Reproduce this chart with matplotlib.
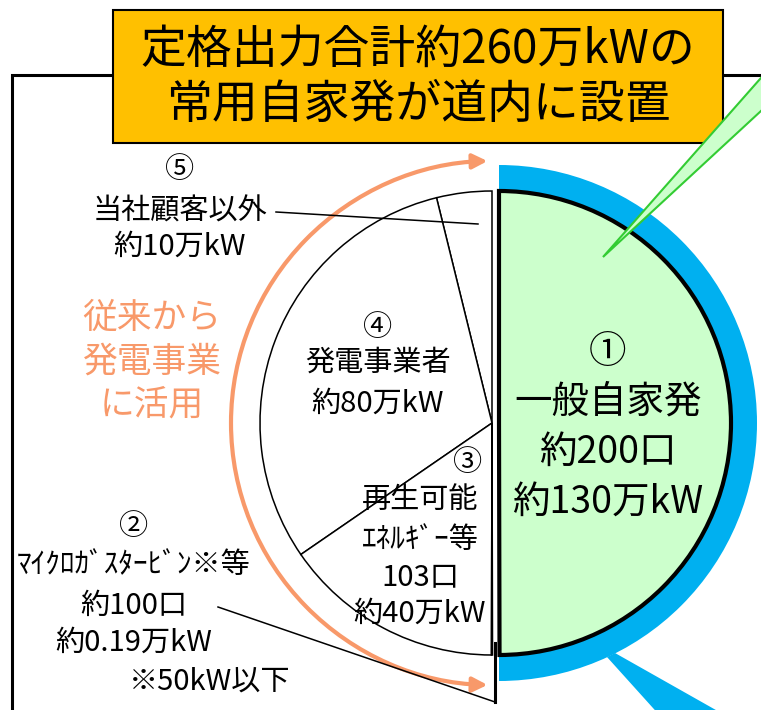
import matplotlib
matplotlib.use("Agg")
import matplotlib.pyplot as plt
from matplotlib.patches import Rectangle, Wedge, Polygon, FancyArrowPatch
from matplotlib.path import Path
import numpy as np

plt.rcParams["font.family"] = ["Noto Sans CJK JP", "DejaVu Sans"]

# slice order: (5), (4), (3), (2), (1)  -- counter-clockwise from the top
slice_names = ["当社顧客以外", "発電事業者", "再生可能エネルギー等", "マイクロガスタービン等", "一般自家発"]
capacity_man_kw = [10, 80, 40, 0.19, 130]
slice_colors = ["white", "white", "white", "white", "#CCFFCC"]

title_lines = ["定格出力合計約260万kWの", "常用自家発が道内に設置"]
label_5 = ["⑤", "当社顧客以外", "約10万kW"]
label_4 = ["④", "発電事業者", "約80万kW"]
label_3 = ["③", "再生可能", "ｴﾈﾙｷﾞｰ等", "103口", "約40万kW"]
label_2 = ["②", "ﾏｲｸﾛｶﾞｽﾀｰﾋﾞﾝ※等", "約100口", "約0.19万kW"]
note_2 = "※50kW以下"
label_1 = ["①", "一般自家発", "約200口", "約130万kW"]
side_note = ["従来から", "発電事業", "に活用"]

ORANGE = "#F8996A"
BLUE = "#00B0F0"
GOLD = "#FFC000"

W, H = 761, 710
fig = plt.figure(figsize=(W / 100, H / 100), dpi=100)
ax = fig.add_axes([0, 0, 1, 1])

cx, cy, r = 492, 423, 232

# blue ring behind the green slice
ax.add_patch(Wedge((cx + 7, cy), 258, -90, 90, width=26, facecolor=BLUE,
                   edgecolor="none", zorder=1))
ax.add_patch(Polygon([(607, 657), (615, 653), (730, 718), (662, 718)],
                     closed=True, facecolor=BLUE, edgecolor="none", zorder=1))

wedges, _ = ax.pie(capacity_man_kw, startangle=270, counterclock=False,
                   radius=r, center=(cx, cy), explode=[0, 0, 0, 0, 7],
                   colors=slice_colors,
                   wedgeprops=dict(edgecolor="black", linewidth=1.1))
for w in wedges:
    w.set_zorder(2)
wedges[-1].set_linewidth(3)
wedges[-1].set_zorder(3)

# frame
ax.plot([12, 12, W], [H, 75, 75], color="black", lw=2.2, zorder=4,
        solid_joinstyle="miter")

# title box
ax.add_patch(Rectangle((113, 10), 610, 133, facecolor=GOLD, edgecolor="black",
                       lw=1.5, zorder=5))
ax.text(418, 50, title_lines[0], ha="center", va="center", fontsize=33, zorder=6)
ax.text(418, 105, title_lines[1], ha="center", va="center", fontsize=33, zorder=6)

# green callout
ax.add_patch(Polygon([(603, 257), (775, 62), (775, 98)], closed=True,
                     facecolor="#CCFFCC", edgecolor="#33CC33", lw=1.5, zorder=6))

# orange arc with arrows on both ends
arc = Path.arc(91.2, 268.8)
verts = arc.vertices * 262 + np.array([cx + 1, cy])
ax.add_patch(FancyArrowPatch(path=Path(verts, arc.codes), arrowstyle="<|-|>",
                             mutation_scale=22, color=ORANGE, lw=3, zorder=4,
                             shrinkA=0, shrinkB=0))

for txt, y in zip(side_note, [318, 362, 405]):
    ax.text(152, y, txt, ha="center", va="center", fontsize=25, color=ORANGE)

fs = 21
for txt, y in zip(label_5, [170, 212, 247]):
    ax.text(180, y, txt, ha="center", va="center", fontsize=fs)
for txt, y in zip(label_4, [328, 363, 404]):
    ax.text(378, y, txt, ha="center", va="center", fontsize=fs, zorder=5)
ax.text(468, 463, label_3[0], ha="center", va="center", fontsize=fs, zorder=5)
for txt, y in zip(label_3[1:], [500, 540, 578, 614]):
    ax.text(420, y, txt, ha="center", va="center", fontsize=fs, zorder=5)
for txt, y in zip(label_2, [527, 565, 606, 643]):
    ax.text(134, y, txt, ha="center", va="center", fontsize=fs)
ax.text(210, 682, note_2, ha="center", va="center", fontsize=fs)
ax.text(608, 352, label_1[0], ha="center", va="center", fontsize=27, zorder=5)
for txt, y in zip(label_1[1:], [402, 452, 503]):
    ax.text(608, y, txt, ha="center", va="center", fontsize=27, zorder=5)

# leader lines
ax.plot([276, 478], [212, 224], color="black", lw=1.1, zorder=5)
ax.plot([218, 495, 495], [607, 702, 643], color="black", lw=1.1, zorder=5)
ax.plot([495, 495], [702, 643], color="black", lw=2.2, zorder=5)

ax.set_xlim(0, W)
ax.set_ylim(H, 0)
ax.set_aspect("equal")
ax.axis("off")
fig.savefig("out.png", dpi=100)
plt.close(fig)
